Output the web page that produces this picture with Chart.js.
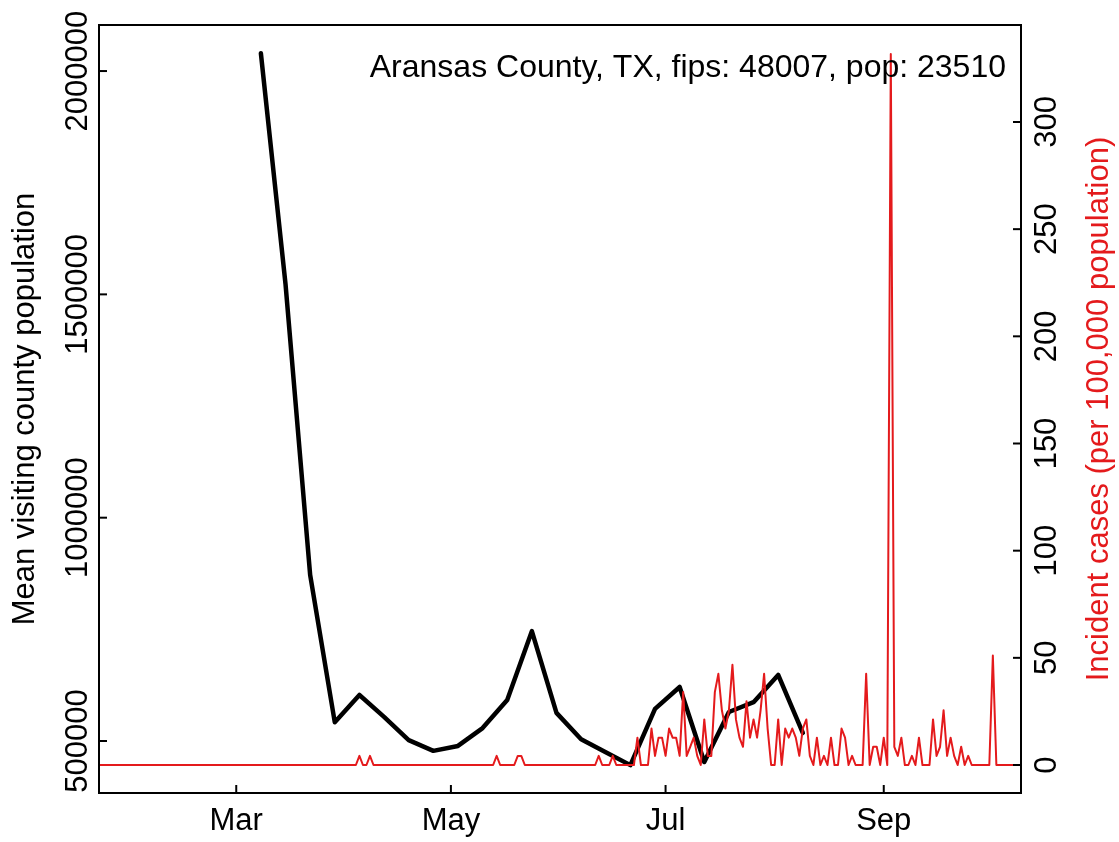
<!DOCTYPE html>
<html>
<head>
<meta charset="utf-8">
<script src="https://cdn.jsdelivr.net/npm/chart.js@4.4.1/dist/chart.umd.min.js"></script>
<style>
  html, body { margin: 0; padding: 0; background: #fff; }
  canvas { display: block; }
</style>
</head>
<body>
<canvas id="chart" width="1119" height="842"></canvas>
<script>
const countyLabel = "Aransas County, TX, fips: 48007, pop: 23510";
const countyPop = 23510;

// daily new cases, one value per day starting 2020-01-22
const caseStart = "2020-01-22";
const dailyCases = [
  0, 0, 0, 0, 0, 0, 0, 0, 0, 0,
  0, 0, 0, 0, 0, 0, 0, 0, 0, 0,
  0, 0, 0, 0, 0, 0, 0, 0, 0, 0,
  0, 0, 0, 0, 0, 0, 0, 0, 0, 0,
  0, 0, 0, 0, 0, 0, 0, 0, 0, 0,
  0, 0, 0, 0, 0, 0, 0, 0, 0, 0,
  0, 0, 0, 0, 0, 0, 0, 0, 0, 0,
  0, 0, 0, 0, 1, 0, 0, 1, 0, 0,
  0, 0, 0, 0, 0, 0, 0, 0, 0, 0,
  0, 0, 0, 0, 0, 0, 0, 0, 0, 0,
  0, 0, 0, 0, 0, 0, 0, 0, 0, 0,
  0, 0, 0, 1, 0, 0, 0, 0, 0, 1,
  1, 0, 0, 0, 0, 0, 0, 0, 0, 0,
  0, 0, 0, 0, 0, 0, 0, 0, 0, 0,
  0, 0, 1, 0, 0, 0, 1, 0, 0, 0,
  0, 0, 0, 3, 0, 0, 0, 4, 1, 3,
  3, 1, 4, 3, 3, 1, 8, 1, 2, 3,
  1, 0, 5, 1, 1, 8, 10, 6, 4, 6,
  11, 5, 3, 2, 7, 3, 5, 3, 6, 10,
  4, 0, 0, 5, 0, 4, 3, 4, 3, 1,
  4, 5, 1, 0, 3, 0, 1, 0, 3, 0,
  0, 4, 3, 0, 1, 0, 0, 0, 10, 0,
  2, 2, 0, 3, 0, 78, 2, 1, 3, 0,
  0, 1, 0, 3, 0, 0, 0, 5, 1, 2,
  6, 1, 3, 1, 0, 2, 0, 1, 0, 0,
  0, 0, 0, 0, 12, 0, 0, 0, 0, 0,
  0, 0, 0
];

// weekly mean visiting county population
const visitDates = [
  "2020-03-08", "2020-03-15", "2020-03-22", "2020-03-29", "2020-04-05",
  "2020-04-12", "2020-04-19", "2020-04-26", "2020-05-03", "2020-05-10",
  "2020-05-17", "2020-05-24", "2020-05-31", "2020-06-07", "2020-06-14",
  "2020-06-21", "2020-06-28", "2020-07-05", "2020-07-12", "2020-07-19",
  "2020-07-26", "2020-08-02", "2020-08-09"
];
const visitValues = [
  2040000, 1523000, 872000, 542000, 603000,
  554000, 502000, 478000, 489000, 529000,
  592000, 746000, 563000, 504000, 475000,
  446000, 572000, 621000, 453000, 565000,
  587000, 648000, 518000
];

const monthTicks = ["2020-03-01", "2020-05-01", "2020-07-01", "2020-09-01"];
const monthLabels = ["Mar", "May", "Jul", "Sep"];
const leftTicks = [500000, 1000000, 1500000, 2000000];
const rightTicks = [0, 50, 100, 150, 200, 250, 300];

const RED = "#E41A1C";
const FONT = "31px 'Liberation Sans', Arial, Helvetica, sans-serif";

const dayOf = (d) => Math.round((Date.parse(d) - Date.parse(caseStart)) / 86400000);

const casePoints = dailyCases.map((c, i) => ({ x: i, y: c * 100000 / countyPop }));
const visitPoints = visitDates.map((d, i) => ({ x: dayOf(d), y: visitValues[i] }));

// R style box, inward ticks and rotated labels
const rAxes = {
  id: "rAxes",
  afterDatasetsDraw(chart) {
    const { ctx, chartArea: a, scales } = chart;
    const tick = 8;
    ctx.save();
    ctx.strokeStyle = "#000";
    ctx.lineWidth = 2;
    ctx.strokeRect(a.left, a.top, a.right - a.left, a.bottom - a.top);

    ctx.font = FONT;
    ctx.fillStyle = "#000";
    ctx.textAlign = "center";
    ctx.textBaseline = "middle";

    monthTicks.forEach((d, i) => {
      const x = scales.x.getPixelForValue(dayOf(d));
      ctx.beginPath();
      ctx.moveTo(x, a.bottom);
      ctx.lineTo(x, a.bottom - tick);
      ctx.stroke();
      ctx.fillText(monthLabels[i], x, 821);
    });

    leftTicks.forEach((v) => {
      const y = scales.y.getPixelForValue(v);
      ctx.beginPath();
      ctx.moveTo(a.left, y);
      ctx.lineTo(a.left + tick, y);
      ctx.stroke();
      ctx.save();
      ctx.translate(78, y);
      ctx.rotate(-Math.PI / 2);
      ctx.fillText(String(v), 0, 0);
      ctx.restore();
    });

    rightTicks.forEach((v) => {
      const y = scales.y2.getPixelForValue(v);
      ctx.beginPath();
      ctx.moveTo(a.right, y);
      ctx.lineTo(a.right - tick, y);
      ctx.stroke();
      ctx.save();
      ctx.translate(1047, y);
      ctx.rotate(-Math.PI / 2);
      ctx.fillText(String(v), 0, 0);
      ctx.restore();
    });

    const midY = (a.top + a.bottom) / 2;
    ctx.save();
    ctx.translate(25, midY);
    ctx.rotate(-Math.PI / 2);
    ctx.fillText("Mean visiting county population", 0, 0);
    ctx.restore();

    ctx.save();
    ctx.fillStyle = RED;
    ctx.translate(1099, midY);
    ctx.rotate(-Math.PI / 2);
    ctx.fillText("Incident cases (per 100,000 population)", 0, 0);
    ctx.restore();

    ctx.font = "32px 'Liberation Sans', Arial, Helvetica, sans-serif";
    ctx.textAlign = "right";
    ctx.textBaseline = "alphabetic";
    ctx.fillText(countyLabel, 1006, 77);
    ctx.restore();
  }
};

new Chart(document.getElementById("chart"), {
  type: "line",
  data: {
    datasets: [
      {
        label: "Incident cases",
        data: casePoints,
        yAxisID: "y2",
        borderColor: RED,
        borderWidth: 2,
        pointRadius: 0,
        tension: 0,
        borderJoinStyle: "round"
      },
      {
        label: "Mean visiting county population",
        data: visitPoints,
        yAxisID: "y",
        borderColor: "#000",
        borderWidth: 4.5,
        pointRadius: 0,
        tension: 0,
        borderJoinStyle: "round",
        borderCapStyle: "round"
      }
    ]
  },
  options: {
    responsive: false,
    devicePixelRatio: 1,
    animation: false,
    layout: { padding: { left: 99, right: 98, top: 25, bottom: 49 } },
    plugins: {
      legend: { display: false },
      tooltip: { enabled: false }
    },
    scales: {
      x: { type: "linear", display: false, min: 0, max: 262 },
      y: { type: "linear", display: false, position: "left", min: 383600, max: 2103100 },
      y2: { type: "linear", display: false, position: "right", min: -13.06, max: 345.25 }
    }
  },
  plugins: [rAxes]
});
</script>
</body>
</html>
